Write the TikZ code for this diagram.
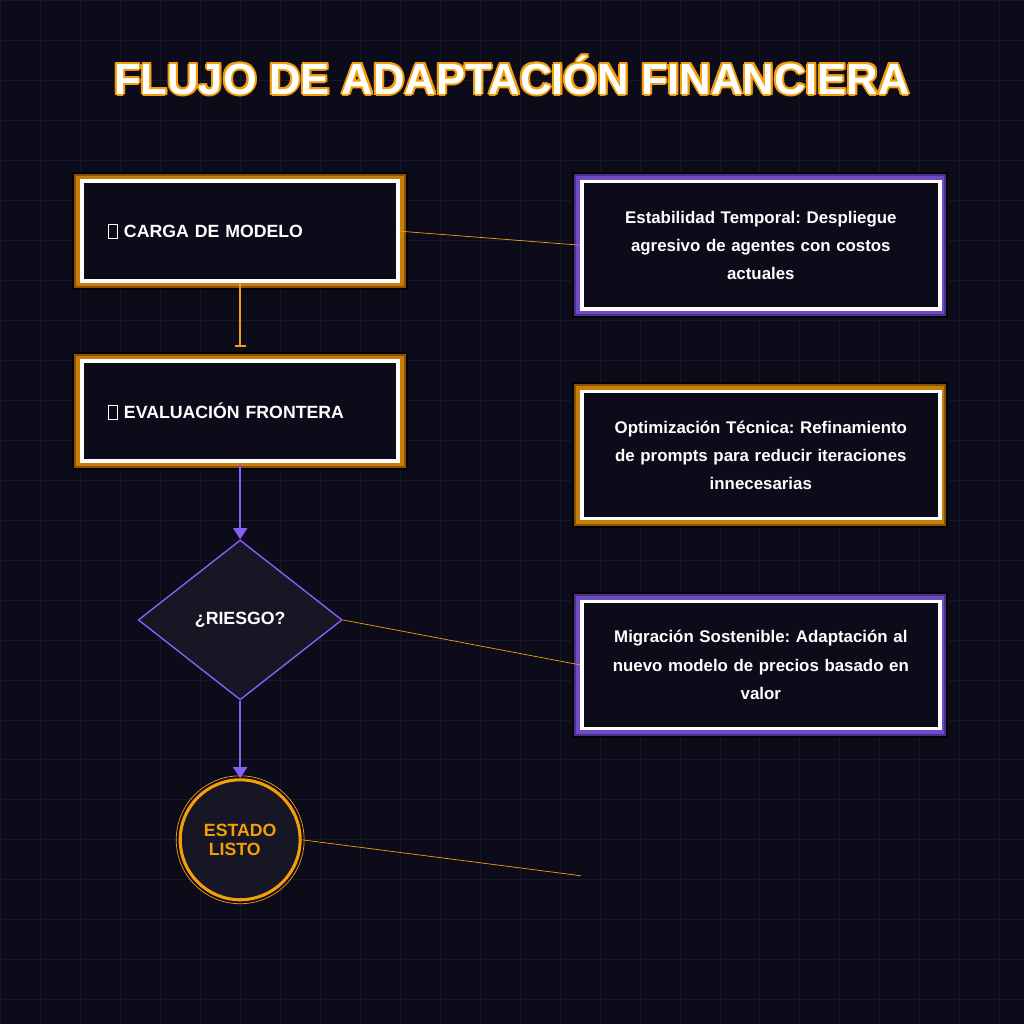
\documentclass[tikz,border=0pt]{standalone}
\usepackage{fontspec}
\setmainfont{Liberation Sans}
\usetikzlibrary{positioning,arrows.meta,shapes.geometric}
\definecolor{bgdark}{HTML}{0B0B1A}
\definecolor{gridc}{HTML}{17172B}
\definecolor{fillc}{HTML}{161624}
\definecolor{orng}{HTML}{F59E0B}
\definecolor{orngdk}{HTML}{8A5200}
\definecolor{purp}{HTML}{8B5CF6}
\definecolor{purpdk}{HTML}{4C2F8F}
\newcommand{\tofu}{{\setlength\fboxsep{0pt}\setlength\fboxrule{0.5pt}\fbox{\rule{0pt}{9pt}\hspace{6pt}}}}
\frenchspacing
\begin{document}
\begin{tikzpicture}[x=0.025cm, y=-0.025cm,
  stepbox/.style={draw=white, line width=2.5pt, fill=bgdark, minimum width=7.9cm,
    minimum height=2.5cm, text width=6.6cm, align=left, font=\bfseries\fontsize{12.6}{14}\selectfont,
    text=white},
  notebox/.style={draw=white, line width=2.5pt, fill=bgdark, minimum width=8.95cm,
    minimum height=3.18cm, text width=8.2cm, align=center,
    font=\bfseries\fontsize{12}{20}\selectfont, text=white},
  link/.style={orng, line width=0.5pt}
]
\fill[bgdark] (0,0) rectangle (1024,1024);
\foreach \g in {0,40,...,1000} {
  \draw[gridc, line width=0.5pt] (\g,0) -- (\g,1024);
  \draw[gridc, line width=0.5pt] (0,\g) -- (1024,\g);
}
\useasboundingbox (0,0) rectangle (1024,1024);

% title
\foreach \dx/\dy in {-2/0,2/0,0/-2,0/2,-1.5/-1.5,1.5/1.5,-1.5/1.5,1.5/-1.5}
  \node[text=orng, font=\bfseries\fontsize{31}{34}\selectfont] at (512+\dx,75+\dy) {FLUJO DE ADAPTACIÓN FINANCIERA};
\node[text=white, font=\bfseries\fontsize{31}{34}\selectfont] (title) at (512,75) {FLUJO DE ADAPTACIÓN FINANCIERA};

% glows
\fill[black] (72,172) rectangle (408,290);
\fill[orngdk] (74,174) rectangle (406,288);
\fill[orng!80!black] (76,176) rectangle (404,286);
\fill[black] (72,352) rectangle (408,470);
\fill[orngdk] (74,354) rectangle (406,468);
\fill[orng!80!black] (76,356) rectangle (404,466);
\fill[black] (572,172) rectangle (948,318);
\fill[purpdk] (574,174) rectangle (946,316);
\fill[purp!80!black] (576,176) rectangle (944,314);
\fill[black] (572,382) rectangle (948,528);
\fill[orngdk] (574,384) rectangle (946,526);
\fill[orng!80!black] (576,386) rectangle (944,524);
\fill[black] (572,592) rectangle (948,738);
\fill[purpdk] (574,594) rectangle (946,736);
\fill[purp!80!black] (576,596) rectangle (944,734);

% steps
\node[stepbox] (carga) at (240,231) {\tofu\ CARGA DE MODELO\\[1.1cm]};
\node[stepbox] (eval) at (240,411) {\tofu\ EVALUACIÓN FRONTERA\\[1.1cm]};
\node[diamond, draw=purp, fill=fillc, line width=1pt, minimum width=5.1cm, minimum height=4cm,
  inner sep=0pt, text=white, font=\bfseries\fontsize{12.6}{14}\selectfont] (riesgo) at (240,620) {¿RIESGO?};
\node[circle, draw=orng, fill=fillc, line width=2.2pt, minimum size=3cm, align=left,
  text=orng, font=\bfseries\fontsize{12.6}{14}\selectfont] (listo) at (240,840) {ESTADO\\\ LISTO};
\draw[orng, line width=0.5pt] (listo) circle (64);

% notes
\node[notebox] (estab) at (761,245) {Estabilidad Temporal: Despliegue\\agresivo de agentes con costos\\actuales};
\node[notebox] (optim) at (761,455) {Optimización Técnica: Refinamiento\\de prompts para reducir iteraciones\\innecesarias};
\node[notebox] (migra) at (761,665) {Migración Sostenible: Adaptación al\\nuevo modelo de precios basado en\\valor};
\coordinate (libre) at (581,876);

% connectors
\draw[orng, line width=1.4pt, shorten >=9, -{Bar[width=8pt]}] (carga) -- (eval);
\draw[purp, line width=1.6pt, -{Triangle[width=10pt,length=8pt]}] (eval) -- (riesgo);
\draw[purp, line width=1.6pt, -{Triangle[width=10pt,length=8pt]}] (riesgo) -- (listo);
\draw[link] (carga.east) -- (estab.west);
\draw[link] (riesgo.east) -- (migra.west);
\draw[link] (listo.east) -- (libre);
\end{tikzpicture}
\end{document}
